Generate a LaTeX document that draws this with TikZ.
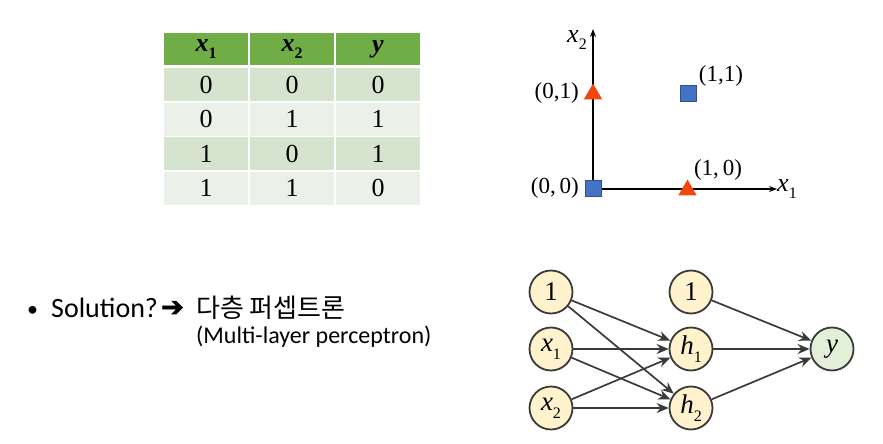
\documentclass[tikz,border=0pt]{standalone}
\usepackage{fontspec}
\setmainfont{Liberation Serif}
\newfontfamily\calibri{Carlito}
\newfontfamily\krfont{Noto Sans CJK KR}
\newfontfamily\djv{DejaVu Sans}[FakeBold=2.5]
\usetikzlibrary{arrows.meta,shapes.geometric}
\definecolor{hdr}{HTML}{70AD47}
\definecolor{bandA}{HTML}{D5E3CF}
\definecolor{bandB}{HTML}{EBF1E9}
\definecolor{tri}{HTML}{F2460F}
\definecolor{sq}{HTML}{4472C4}
\definecolor{sqb}{HTML}{2F528F}
\definecolor{nfill}{HTML}{FFF2CC}
\definecolor{yfill}{HTML}{E2F0D9}
\definecolor{edge}{HTML}{3A3A3A}
\newcommand\fs[1]{\fontsize{#1}{#1}\selectfont}
\newcommand\sv[2]{\textit{#1}\raisebox{-0.3em}{\fs{16}#2}}
\tikzset{
  cell/.style={fill=#1, minimum width=84pt, minimum height=33pt, inner sep=0, font=\fs{26}},
  hcell/.style={fill=hdr, minimum width=84pt, minimum height=32pt, inner sep=0, font=\fs{26}\bfseries},
  neuron/.style={circle, draw=edge, line width=1.8pt, fill=nfill, minimum size=43pt, inner sep=0, font=\fs{27}},
  conn/.style={draw=edge, line width=1.7pt, -{Stealth[length=12pt,width=10pt]}},
  axis/.style={draw=black, line width=1.1pt, -{Stealth[length=8pt,width=6pt]}},
  ptlab/.style={font=\fs{23}, inner sep=0},
  trimark/.style={regular polygon, regular polygon sides=3, fill=tri, inner sep=0, minimum size=21pt},
  sqmark/.style={rectangle, fill=sq, draw=sqb, line width=0.6pt, minimum size=16pt, inner sep=0},
}
\begin{document}
\begin{tikzpicture}[x=1pt,y=-1pt]
\useasboundingbox (0,0) rectangle (883,444);
% ---------- table ----------
\node[hcell] (h1) at (206,49) {\sv{x}{1}};
\node[hcell] (h2) at (292,49) {\sv{x}{2}};
\node[hcell] (h3) at (378,49) {\textit{y}};
\node[cell=bandA] (r11) at (206,84.5) {0};
\node[cell=bandA] (r12) at (292,84.5) {0};
\node[cell=bandA] (r13) at (378,84.5) {0};
\node[cell=bandB] (r21) at (206,119) {0};
\node[cell=bandB] (r22) at (292,119) {1};
\node[cell=bandB] (r23) at (378,119) {1};
\node[cell=bandA] (r31) at (206,153.5) {1};
\node[cell=bandA] (r32) at (292,153.5) {0};
\node[cell=bandA] (r33) at (378,153.5) {1};
\node[cell=bandB] (r41) at (206,188) {1};
\node[cell=bandB] (r42) at (292,188) {1};
\node[cell=bandB] (r43) at (378,188) {0};
% ---------- plot ----------
\coordinate (o) at (593,189);
\coordinate (xe) at (777,189);
\coordinate (ye) at (593,29);
\draw[axis] (o) -- (xe);
\draw[axis] (o) -- (ye);
\node[font=\fs{26}, inner sep=0] (xl) at (787,189) {\sv{x}{1}};
\node[font=\fs{26}, inner sep=0] (yl) at (577,40) {\sv{x}{2}};
\node[trimark] (p01) at (593,94) {};
\node[trimark] (p10) at (687.5,190) {};
\node[sqmark] (p00) at (593,188) {};
\node[sqmark] (p11) at (688,93) {};
\node[ptlab, anchor=east] (l01) at (579,93) {(0,1)};
\node[ptlab, anchor=east] (l00) at (579,188) {(0,\,0)};
\node[ptlab] (l11) at (721,76) {(1,1)};
\node[ptlab] (l10) at (718,170) {(1,\,0)};
% ---------- text ----------
\node[anchor=base west, inner sep=0, font=\calibri\fs{22}] (bul) at (27,316) {•};
\node[anchor=base west, inner sep=0, font=\calibri\fs{28}] (sol) at (51,317) {Solution?};
\node[anchor=base west, inner sep=0, font=\djv\fs{27}] (arr) at (161,316) {➔};
\node[anchor=base west, inner sep=0, font=\krfont\fs{26}] (kr) at (196,317) {다층 퍼셉트론};
\node[anchor=base west, inner sep=0, font=\calibri\fs{24}] (mlp) at (196,343) {(Multi-layer perceptron)};
% ---------- network ----------
\node[neuron] (i0) at (551,292) {1};
\node[neuron] (i1) at (551,349) {\sv{x}{1}};
\node[neuron] (i2) at (551,408) {\sv{x}{2}};
\node[neuron] (b1) at (691,292) {1};
\node[neuron] (hh1) at (691,349) {\sv{h}{1}};
\node[neuron] (hh2) at (691,408) {\sv{h}{2}};
\node[neuron, fill=yfill] (out) at (832,349) {\textit{y}};
\foreach \s in {i0,i1,i2}{
  \draw[conn] (\s) -- (hh1);
  \draw[conn] (\s) -- (hh2);
}
\foreach \s in {b1,hh1,hh2}{
  \draw[conn] (\s) -- (out);
}
\end{tikzpicture}
\end{document}
